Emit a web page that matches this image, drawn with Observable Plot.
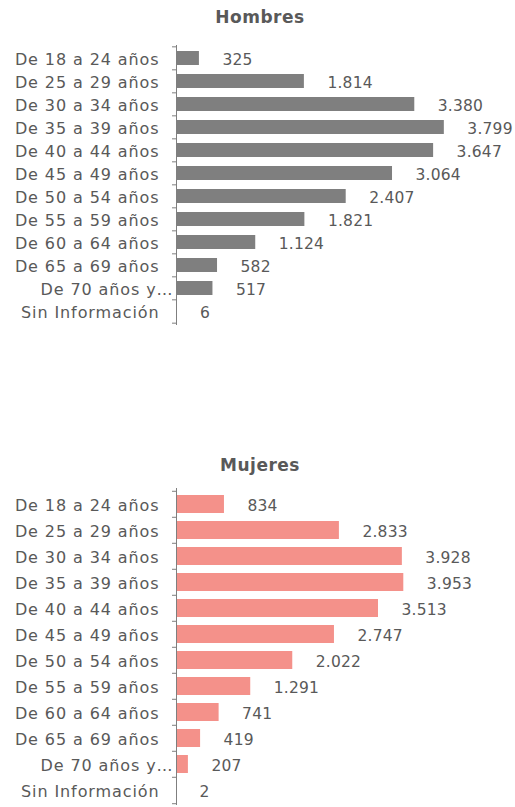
<!DOCTYPE html>
<html><head><meta charset="utf-8">
<script src="https://cdn.jsdelivr.net/npm/d3@7"></script>
<script src="https://cdn.jsdelivr.net/npm/@observablehq/plot@0.6"></script>
<style>
body{margin:0;background:#fff;width:515px;height:807px;position:relative;overflow:hidden;font-family:"DejaVu Sans",sans-serif}
.title{position:absolute;left:0;width:520px;text-align:center;font-weight:bold;font-size:17px;letter-spacing:0.5px;line-height:20px;color:#595959}
.chart{position:absolute;left:0}
</style></head><body>
<div class="title" style="top:7px">Hombres</div>
<div class="chart" id="c1" style="top:30px"></div>
<div class="title" style="top:455px">Mujeres</div>
<div class="chart" id="c2" style="top:475px"></div>
<script>
const categories = ["De 18 a 24 años","De 25 a 29 años","De 30 a 34 años","De 35 a 39 años","De 40 a 44 años","De 45 a 49 años","De 50 a 54 años","De 55 a 59 años","De 60 a 64 años","De 65 a 69 años","De 70 años y…","Sin Información"];
const hombres = [325,1814,3380,3799,3647,3064,2407,1821,1124,582,517,6];
const mujeres = [834,2833,3928,3953,3513,2747,2022,1291,741,419,207,2];
const xMax = 4000;

const fmt = d3.formatLocale({decimal:",", thousands:".", grouping:[3], currency:["",""]}).format(",d");
const textColor = "#595959";

function makeChart(values, color, cfg) {
  const data = categories.map((c, i) => ({cat: c, value: values[i]}));
  const step = (cfg.height - cfg.mt - cfg.mb) / categories.length;
  const k = (515 - 176 - cfg.mr) / xMax;
  const tickLen = 4 / k;
  const last = [data[data.length - 1]];
  const svg = Plot.plot({
    width: 515,
    height: cfg.height,
    marginTop: cfg.mt,
    marginBottom: cfg.mb,
    marginLeft: 176,
    marginRight: cfg.mr,
    style: {fontFamily: "DejaVu Sans, sans-serif", fontSize: "16px", color: textColor, overflow: "visible"},
    x: {domain: [0, xMax], axis: null},
    y: {domain: categories, axis: null, paddingInner: cfg.pad, paddingOuter: cfg.pad / 2},
    marks: [
      Plot.barX(data, {x: "value", y: "cat", fill: color}),
      Plot.ruleX([0], {stroke: "#7f7f7f", strokeWidth: 1}),
      Plot.ruleY(data, {y: "cat", x1: -tickLen, x2: 0, dy: -step / 2, stroke: "#7f7f7f"}),
      Plot.ruleY(last, {y: "cat", x1: -tickLen, x2: 0, dy: step / 2, stroke: "#7f7f7f"}),
      Plot.text(data.filter(d => !d.cat.endsWith("…")), {y: "cat", text: "cat", frameAnchor: "left", textAnchor: "end", dx: -17, dy: 1, fill: textColor, fontSize: 16}),
      Plot.text(data.filter(d => d.cat.endsWith("…")), {y: "cat", text: "cat", frameAnchor: "left", textAnchor: "end", dx: -3, dy: 1, fill: textColor, fontSize: 16}),
      Plot.text(data, {x: "value", y: "cat", text: d => fmt(d.value), textAnchor: "start", dx: 23, dy: 2, fill: textColor, fontSize: 15.5})
    ]
  });
  const groups = svg.querySelectorAll('g[aria-label="text"]');
  const spacing = ["0.9px", "0.9px", "0.2px"];
  groups.forEach((g, i) => g.style.letterSpacing = spacing[i] || "0px");
  return svg;
}

document.getElementById("c1").appendChild(makeChart(hombres, "#7f7f7f", {height: 300, mt: 15, mb: 5, mr: 57, pad: 0.38}));
document.getElementById("c2").appendChild(makeChart(mujeres, "#f4918a", {height: 332, mt: 13, mb: 2, mr: 109, pad: 0.32}));
</script>
</body></html>
